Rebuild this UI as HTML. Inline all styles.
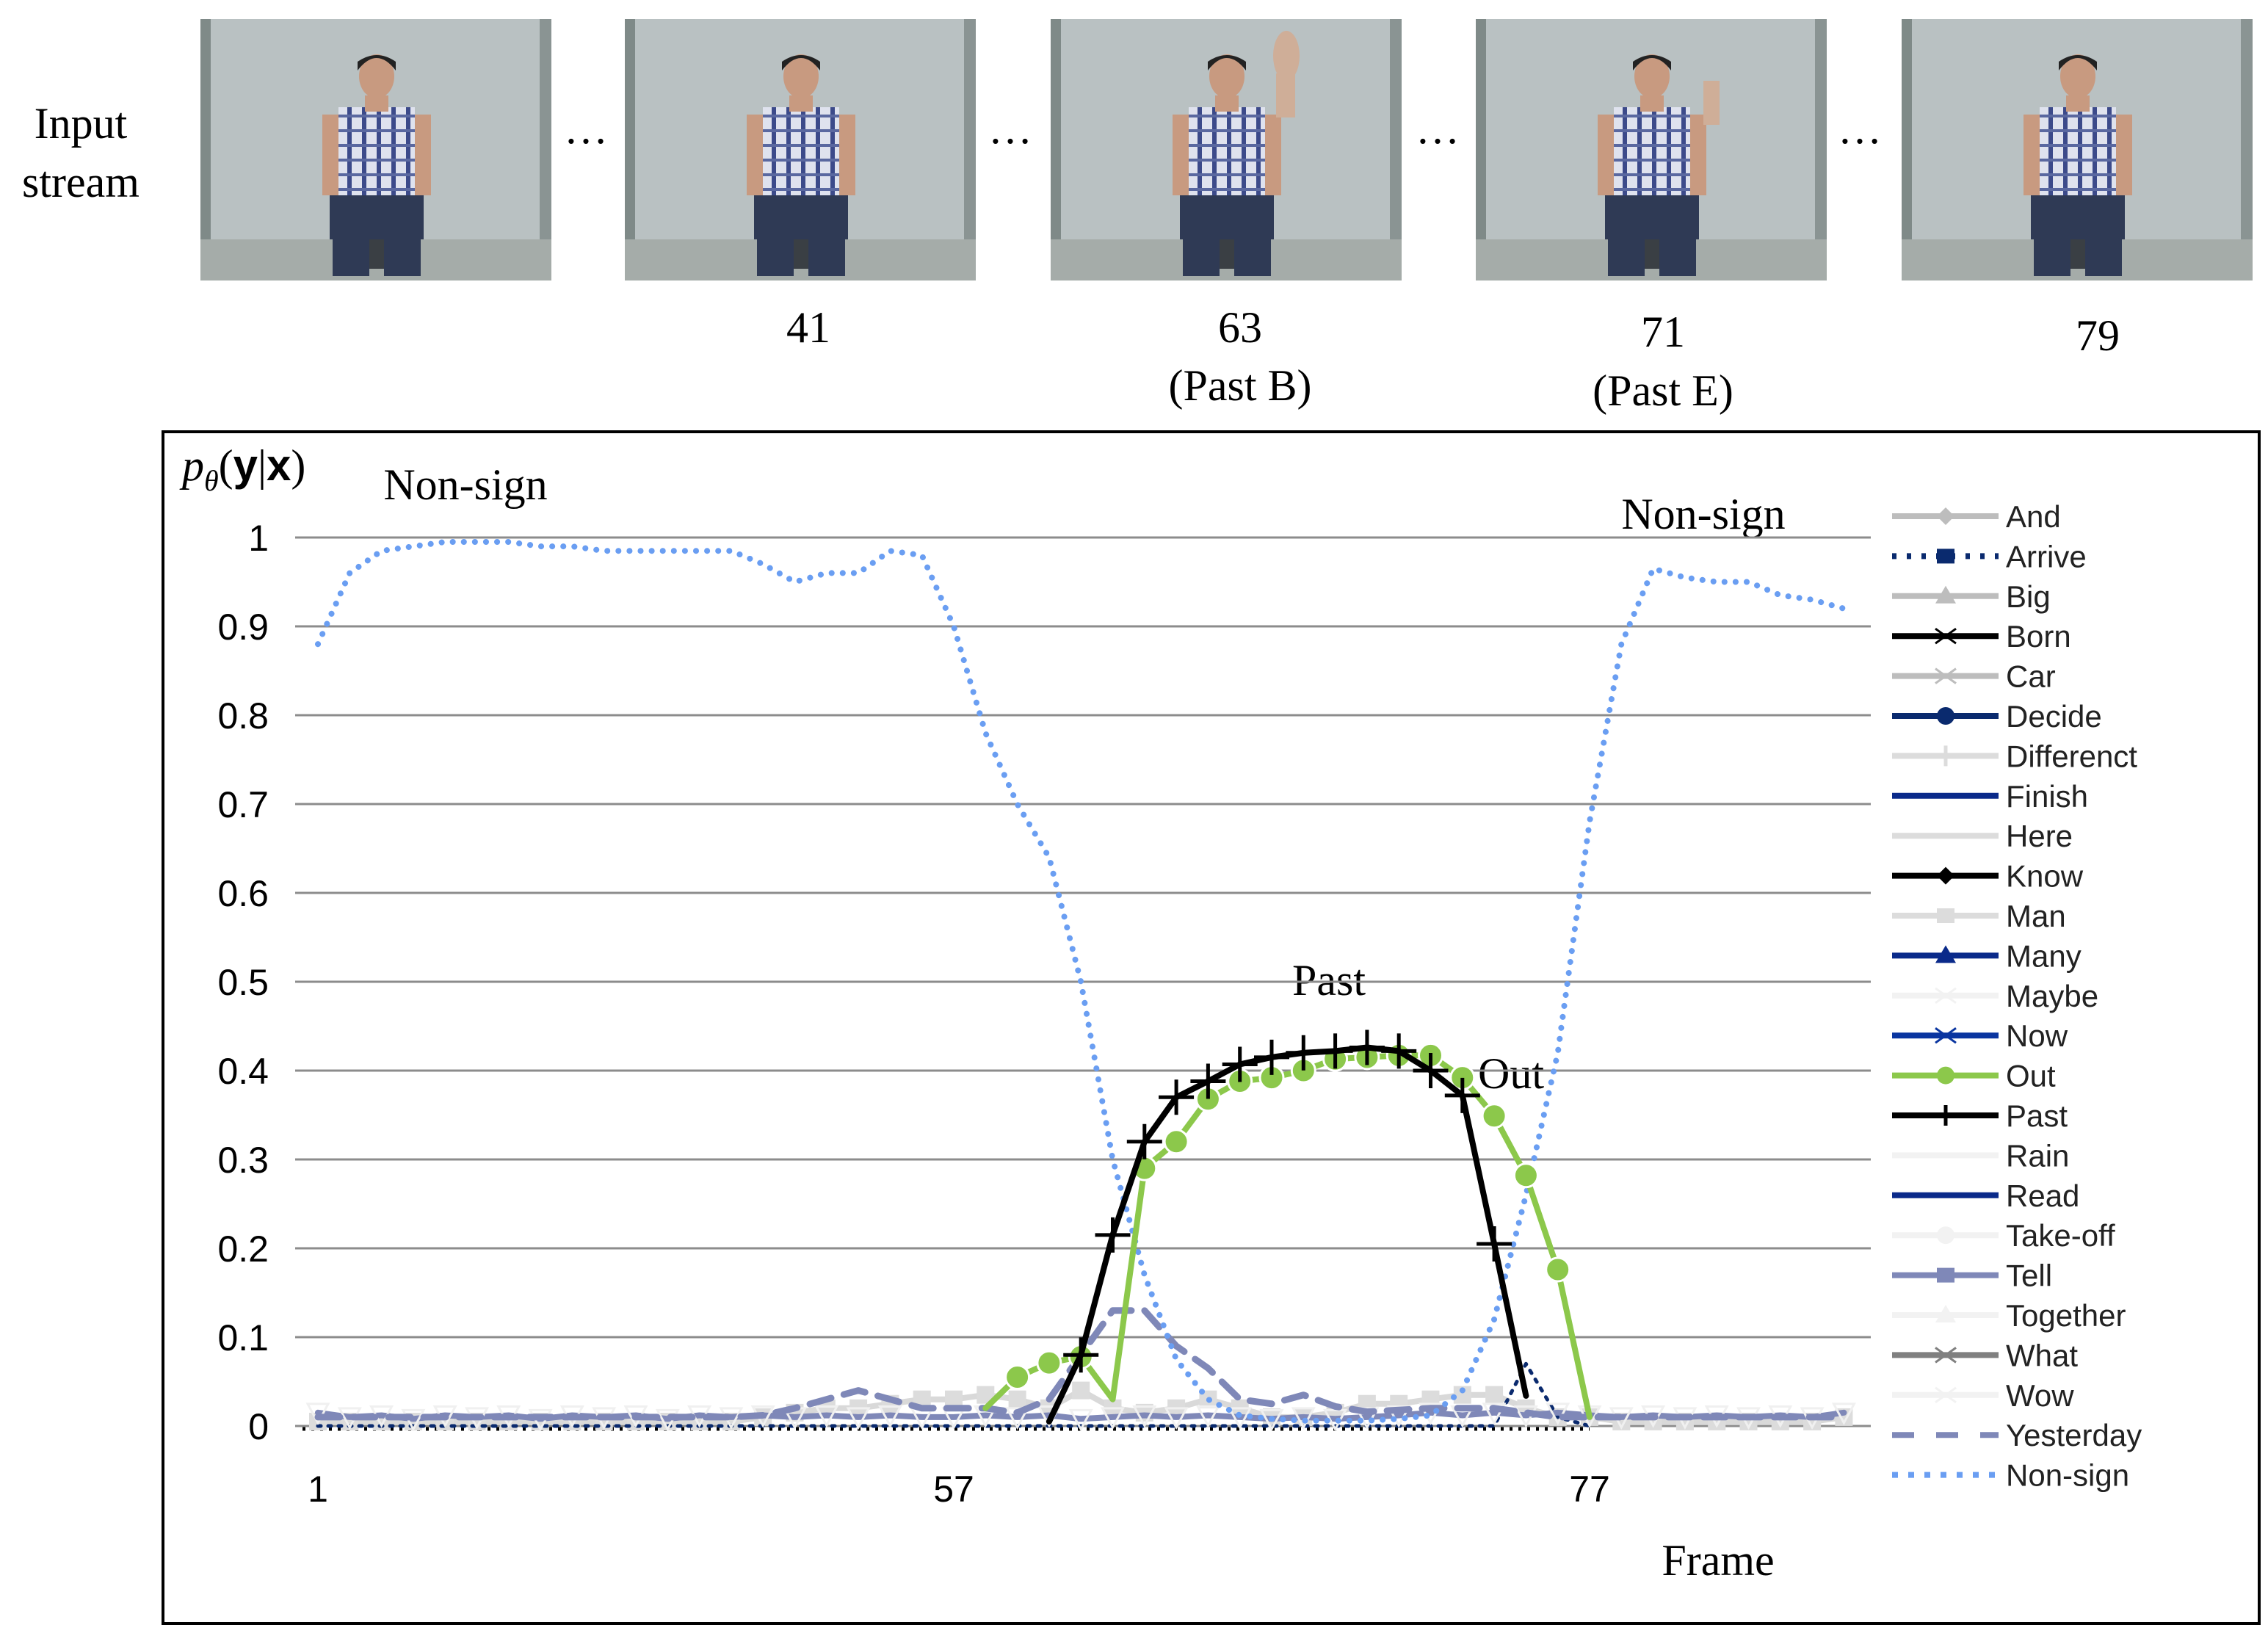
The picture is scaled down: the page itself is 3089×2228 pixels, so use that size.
<!DOCTYPE html>
<html><head><meta charset="utf-8">
<style>
html,body{margin:0;padding:0;background:#fff;}
svg{display:block;}
.serif{font-family:"Liberation Serif",serif;}
.sans{font-family:"Liberation Sans",sans-serif;}
</style></head>
<body>
<svg id="fig" width="3089" height="2228" viewBox="0 0 3089 2228" xmlns="http://www.w3.org/2000/svg">
<defs>
<g id="thumb">
  <rect x="0" y="0" width="478" height="356" fill="#b9c1c2"/>
  <rect x="0" y="0" width="14" height="356" fill="#7f8a88"/>
  <rect x="462" y="0" width="16" height="356" fill="#8a9493"/>
  <rect x="0" y="300" width="478" height="56" fill="#a5aca9"/>
  <rect x="180" y="230" width="120" height="110" fill="#3a3f44"/>
  <rect x="188" y="120" width="104" height="130" fill="#d8dbe6"/>
  <path d="M188 120 L292 120 L292 250 L188 250Z" fill="url(#plaid)"/>
  <rect x="224" y="104" width="32" height="22" fill="#c89a80"/>
  <ellipse cx="240" cy="78" rx="24" ry="30" fill="#c89a80"/>
  <path d="M214 70 Q240 36 266 70 L266 58 Q240 40 214 58Z" fill="#222"/>
  <rect x="176" y="240" width="128" height="60" fill="#2f3a55"/>
  <rect x="180" y="290" width="50" height="60" fill="#2f3a55"/>
  <rect x="250" y="290" width="50" height="60" fill="#2f3a55"/>
  <rect x="166" y="130" width="22" height="110" fill="#c89a80"/>
  <rect x="292" y="130" width="22" height="110" fill="#c89a80"/>
</g>
<pattern id="plaid" width="20" height="20" patternUnits="userSpaceOnUse">
  <rect width="20" height="20" fill="#dfe2ee"/>
  <rect x="0" y="0" width="6" height="20" fill="#3c4a8a"/>
  <rect x="0" y="10" width="20" height="4" fill="#5a68a0"/>
</pattern>
</defs>

<text class="serif" x="110" y="188" font-size="60" text-anchor="middle">Input</text>
<text class="serif" x="110" y="268" font-size="60" text-anchor="middle">stream</text>

<use href="#thumb" x="273" y="26"/>
<use href="#thumb" x="851" y="26"/>
<use href="#thumb" x="1431" y="26"/>
<use href="#thumb" x="2010" y="26"/>
<use href="#thumb" x="2590" y="26"/>
<g fill="#cfae98">
  <ellipse cx="1752" cy="76" rx="18" ry="34"/>
  <rect x="1738" y="100" width="26" height="60"/>
  <rect x="2320" y="110" width="22" height="60"/>
</g>

<g class="serif" font-size="60" text-anchor="middle">
<text x="798" y="195">…</text>
<text x="1376" y="195">…</text>
<text x="1958" y="195">…</text>
<text x="2533" y="195">…</text>
<text x="1101" y="466">41</text>
<text x="1689" y="466">63</text>
<text x="1689" y="545">(Past B)</text>
<text x="2265" y="472">71</text>
<text x="2265" y="552">(Past E)</text>
<text x="2857" y="477">79</text>
</g>

<rect x="222" y="588" width="2855" height="1623" fill="none" stroke="#000" stroke-width="4"/>
<text class="serif" x="248" y="654" font-size="60"><tspan font-style="italic">p</tspan><tspan font-style="italic" font-size="40" dy="14">θ</tspan><tspan dy="-14">(</tspan><tspan font-weight="bold" font-family="Liberation Sans">y</tspan>|<tspan font-weight="bold" font-family="Liberation Sans">x</tspan>)</text>
<text class="serif" x="634" y="680" font-size="60" text-anchor="middle">Non-sign</text>
<text class="serif" x="2320" y="720" font-size="60" text-anchor="middle">Non-sign</text>
<text class="serif" x="1810" y="1355" font-size="60" text-anchor="middle">Past</text>
<text class="serif" x="2058" y="1482" font-size="60" text-anchor="middle">Out</text>
<text class="serif" x="2340" y="2145" font-size="60" text-anchor="middle">Frame</text>

<g id="grid"></g>
<g id="series"></g>
<g id="legend"></g>
</svg>
<script>
const yTicks = [0,0.1,0.2,0.3,0.4,0.5,0.6,0.7,0.8,0.9,1];
const yTickLabels = ["0","0.1","0.2","0.3","0.4","0.5","0.6","0.7","0.8","0.9","1"];
const xTickIdx = [0,20,40];
const xTickLabels = ["1","57","77"];
const nonSign = [0.88,0.96,0.985,0.99,0.995,0.995,0.995,0.99,0.99,0.985,0.985,0.985,0.985,0.985,0.97,0.95,0.96,0.96,0.985,0.98,0.9,0.78,0.70,0.64,0.50,0.30,0.17,0.075,0.03,0.012,0.008,0.006,0.006,0.006,0.008,0.012,0.04,0.12,0.26,0.42,0.68,0.88,0.965,0.955,0.95,0.95,0.935,0.93,0.92];
const past = [null,null,null,null,null,null,null,null,null,null,null,null,null,null,null,null,null,null,null,null,null,null,null,0.005,0.08,0.215,0.32,0.37,0.388,0.407,0.415,0.42,0.422,0.426,0.422,0.40,0.372,0.205,0.034];
const out = [null,null,null,null,null,null,null,null,null,null,null,null,null,null,null,null,null,null,null,null,null,0.02,0.055,0.071,0.078,0.03,0.29,0.32,0.368,0.388,0.392,0.40,0.413,0.415,0.417,0.417,0.392,0.349,0.282,0.176,0.01];
const yesterday = [0.01,0.01,0.01,0.01,0.01,0.01,0.01,0.01,0.01,0.01,0.01,0.01,0.01,0.01,0.012,0.02,0.03,0.04,0.03,0.02,0.02,0.02,0.015,0.03,0.08,0.13,0.13,0.09,0.065,0.03,0.025,0.035,0.022,0.016,0.018,0.02,0.02,0.02,0.015,0.01,0.01,0.01,0.01,0.01,0.01,0.01,0.01,0.01,0.01];
const tell = [0.015,0.01,0.012,0.008,0.012,0.01,0.012,0.008,0.012,0.01,0.012,0.008,0.012,0.01,0.012,0.01,0.012,0.01,0.012,0.01,0.01,0.012,0.01,0.012,0.008,0.01,0.012,0.01,0.012,0.01,0.008,0.01,0.008,0.01,0.012,0.015,0.012,0.015,0.012,0.015,0.012,0.01,0.012,0.01,0.012,0.01,0.012,0.01,0.015];
const man = [0.005,0.005,0.005,0.005,0.005,0.005,0.005,0.005,0.005,0.005,0.005,0.005,0.005,0.005,0.01,0.015,0.02,0.02,0.025,0.03,0.03,0.035,0.03,0.02,0.04,0.02,0.015,0.02,0.03,0.02,0.01,0.01,0.015,0.025,0.025,0.03,0.035,0.035,0.02,0.01,0.01,0.005,0.005,0.005,0.005,0.005,0.005,0.005,0.01];
const arrive = [0,0,0,0,0,0,0,0,0,0,0,0,0,0,0,0,0,0,0,0,0,0,0,0,0,0,0,0,0,0,0,0,0,0,0,0,0,0,0.07,0.01,0];
const legendNames = ["And","Arrive","Big","Born","Car","Decide","Differenct","Finish","Here","Know","Man","Many","Maybe","Now","Out","Past","Rain","Read","Take-off","Tell","Together","What","Wow","Yesterday","Non-sign"];
const legendColors = ["#bdbdbd","#0a2a6e","#bdbdbd","#000","#bdbdbd","#0a2a6e","#dcdcdc","#0a2a8a","#dcdcdc","#000","#dcdcdc","#0a2a8a","#f2f2f2","#0a35a0","#8cc84b","#000","#f2f2f2","#0a2a8a","#f2f2f2","#7f88b8","#f2f2f2","#808080","#f2f2f2","#7f88b8","#6a9ef2"];
const legendDash = ["","6 14","","","","","","","","","","","","","","","","","","","","","","30 30","8 14"];
const legendMarker = ["diamond","square","triangle","x","x","circle","plus","","","diamond","square","triangle","x","x","circle","plus","","","circle","square","triangle","x","x","",""];

const NS="http://www.w3.org/2000/svg";
const X0=402, X1=2548, Y0=1942, YS=1210, XI0=433, XS=43.3;
function xs(i){return XI0+i*XS;}
function ys(v){return Y0-v*YS;}
function mk(tag,attrs,parent){const e=document.createElementNS(NS,tag);for(const k in attrs)e.setAttribute(k,attrs[k]);parent.appendChild(e);return e;}
const grid=document.getElementById('grid'), ser=document.getElementById('series'), leg=document.getElementById('legend');

yTicks.forEach((v,k)=>{
  const l=mk('line',{x1:X0,x2:X1,y1:ys(v),y2:ys(v),stroke:'#8c8c8c','stroke-width':3},grid);
  
  
  const t=mk('text',{x:366,y:ys(v)+18,'font-size':50,'text-anchor':'end','font-family':'Liberation Sans, sans-serif'},grid);
  t.textContent=yTickLabels[k];
  
  
});
xTickIdx.forEach((i,k)=>{
  const t=mk('text',{x:xs(i),y:2045,'font-size':50,'text-anchor':'middle','font-family':'Liberation Sans, sans-serif'},grid);
  t.textContent=xTickLabels[k];
  
  
});

function pathOf(arr){let d='',pen=false;arr.forEach((v,i)=>{if(v===null){pen=false;return;}d+=(pen?'L':'M')+xs(i).toFixed(1)+' '+ys(v).toFixed(1)+' ';pen=true;});return d;}
function line(arr,attrs,name){
  const p=mk('path',Object.assign({d:pathOf(arr),fill:'none','stroke-linejoin':'round','stroke-linecap':'round'},attrs),ser);
  
  
  return p;
}
// black dotted baseline (Arrive / Born markers near zero)
const bl=mk('line',{x1:X0+10,x2:xs(40),y1:Y0+4,y2:Y0+4,stroke:'#000','stroke-width':5,'stroke-dasharray':'4 8'},ser);


line(man,{stroke:'#d9d9d9','stroke-width':8},'series-man');
man.forEach((v,i)=>{const r=mk('rect',{x:xs(i)-12,y:ys(v)-12,width:24,height:24,fill:'#dcdcdc'},ser);
  
  });
line(arrive,{stroke:'#0a2a6e','stroke-width':5,'stroke-dasharray':'4 10'},'series-arrive');
line(tell,{stroke:'#7f88b8','stroke-width':8},'series-tell');
tell.forEach((v,i)=>{const r=mk('path',{d:`M${xs(i)-14} ${ys(v)-12} L${xs(i)+14} ${ys(v)-12} L${xs(i)} ${ys(v)+14}Z`,fill:'none',stroke:'#f0f0f0','stroke-width':3},ser);
  
  });
line(yesterday,{stroke:'#7f88b8','stroke-width':9,'stroke-dasharray':'30 18'},'series-yesterday');
line(nonSign,{stroke:'#6a9ef2','stroke-width':8,'stroke-dasharray':'0.1 15'},'series-non-sign');
line(out,{stroke:'#8cc84b','stroke-width':8},'series-out');
out.forEach((v,i)=>{ if(v!==null && v>0.04){const c=mk('circle',{cx:xs(i),cy:ys(v),r:16,fill:'#8cc84b',stroke:'#fff','stroke-width':3},ser);
  
  }});
line(past,{stroke:'#000','stroke-width':8},'series-past');
past.forEach((v,i)=>{ if(v!==null && v>0.05){const c=mk('path',{d:`M${xs(i)-24} ${ys(v)} H${xs(i)+24} M${xs(i)} ${ys(v)-24} V${ys(v)+24}`,stroke:'#000','stroke-width':5},ser);
  
  }});

const LY0=703, LDY=54.4;
legendNames.forEach((n,k)=>{
  const y=LY0+k*LDY;
  const g=mk('g',{},leg);
  
  
  const a={x1:2577,x2:2722,y1:y,y2:y,stroke:legendColors[k],'stroke-width':8};
  if(legendDash[k]) a['stroke-dasharray']=legendDash[k];
  const l=mk('line',a,g);
  
  
  const cx=2650, c=legendColors[k], m=legendMarker[k];
  let mm=null;
  if(m==='circle') mm=mk('circle',{cx:cx,cy:y,r:12,fill:c},g);
  else if(m==='square') mm=mk('rect',{x:cx-12,y:y-10,width:24,height:20,fill:c},g);
  else if(m==='diamond') mm=mk('path',{d:`M${cx-12} ${y} L${cx} ${y-12} L${cx+12} ${y} L${cx} ${y+12}Z`,fill:c},g);
  else if(m==='triangle') mm=mk('path',{d:`M${cx-14} ${y+10} L${cx} ${y-14} L${cx+14} ${y+10}Z`,fill:c},g);
  else if(m==='x') mm=mk('path',{d:`M${cx-14} ${y-10} L${cx+14} ${y+10} M${cx-14} ${y+10} L${cx+14} ${y-10}`,stroke:c,'stroke-width':3},g);
  else if(m==='plus') mm=mk('path',{d:`M${cx} ${y-14} V${y+14}`,stroke:c,'stroke-width':5},g);
  if(mm){
    }
  const t=mk('text',{x:2732,y:y+15,'font-size':42,'font-family':'Liberation Sans, sans-serif',fill:'#222'},g);
  t.textContent=n;
  
  
});
</script>
</body></html>
